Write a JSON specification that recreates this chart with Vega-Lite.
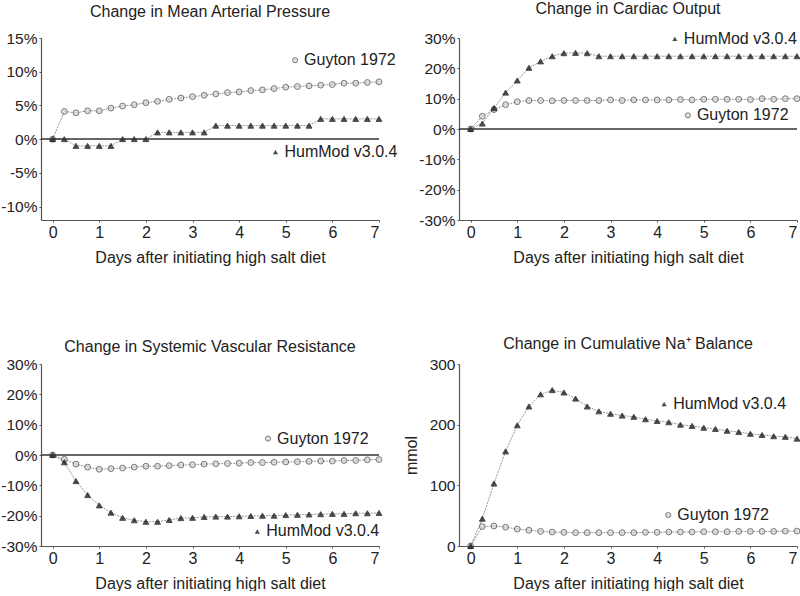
{
"$schema":"https://vega.github.io/schema/vega-lite/v6.json",
"padding":{"left":0,"top":0,"right":0,"bottom":0},
"background":"white",
"config":{
 "view":{"stroke":null},
 "font":"Liberation Sans",
 "title":{"font":"Liberation Sans","fontSize":16,"fontWeight":"normal","color":"#222"},
 "axis":{"grid":false,"labelOverlap":false,"domainColor":"#555","domainWidth":1.2,"tickColor":"#555","tickSize":2,"labelFont":"Liberation Sans","labelFontSize":16,"labelColor":"#222","titleFont":"Liberation Sans","titleFontSize":16,"titleFontWeight":"normal","titleColor":"#222","labelPadding":2},
 "axisY":{"labelFontSize":15.5}
},
"datasets":{
"map":[
{"s":"G","d":0,"v":0},{"s":"G","d":0.25,"v":4.1},{"s":"G","d":0.5,"v":3.9},{"s":"G","d":0.75,"v":4.2},{"s":"G","d":1,"v":4.2},{"s":"G","d":1.25,"v":4.6},{"s":"G","d":1.5,"v":4.9},{"s":"G","d":1.75,"v":5.1},{"s":"G","d":2,"v":5.4},{"s":"G","d":2.25,"v":5.6},{"s":"G","d":2.5,"v":5.9},{"s":"G","d":2.75,"v":6.1},{"s":"G","d":3,"v":6.3},{"s":"G","d":3.25,"v":6.5},{"s":"G","d":3.5,"v":6.7},{"s":"G","d":3.75,"v":6.9},{"s":"G","d":4,"v":7.0},{"s":"G","d":4.25,"v":7.2},{"s":"G","d":4.5,"v":7.3},{"s":"G","d":4.75,"v":7.5},{"s":"G","d":5,"v":7.7},{"s":"G","d":5.25,"v":7.8},{"s":"G","d":5.5,"v":7.9},{"s":"G","d":5.75,"v":8.0},{"s":"G","d":6,"v":8.1},{"s":"G","d":6.25,"v":8.3},{"s":"G","d":6.5,"v":8.3},{"s":"G","d":6.75,"v":8.4},{"s":"G","d":7,"v":8.5},
{"s":"H","d":0,"v":0},{"s":"H","d":0.25,"v":0},{"s":"H","d":0.5,"v":-1},{"s":"H","d":0.75,"v":-1},{"s":"H","d":1,"v":-1},{"s":"H","d":1.25,"v":-1},{"s":"H","d":1.5,"v":0},{"s":"H","d":1.75,"v":0},{"s":"H","d":2,"v":0},{"s":"H","d":2.25,"v":1},{"s":"H","d":2.5,"v":1},{"s":"H","d":2.75,"v":1},{"s":"H","d":3,"v":1},{"s":"H","d":3.25,"v":1},{"s":"H","d":3.5,"v":2},{"s":"H","d":3.75,"v":2},{"s":"H","d":4,"v":2},{"s":"H","d":4.25,"v":2},{"s":"H","d":4.5,"v":2},{"s":"H","d":4.75,"v":2},{"s":"H","d":5,"v":2},{"s":"H","d":5.25,"v":2},{"s":"H","d":5.5,"v":2},{"s":"H","d":5.75,"v":3},{"s":"H","d":6,"v":3},{"s":"H","d":6.25,"v":3},{"s":"H","d":6.5,"v":3},{"s":"H","d":6.75,"v":3},{"s":"H","d":7,"v":3}
],
"co":[
{"s":"G","d":0,"v":0},{"s":"G","d":0.25,"v":4.2},{"s":"G","d":0.5,"v":6.4},{"s":"G","d":0.75,"v":8.0},{"s":"G","d":1,"v":9.0},{"s":"G","d":1.25,"v":9.4},{"s":"G","d":1.5,"v":9.4},{"s":"G","d":1.75,"v":9.3},{"s":"G","d":2,"v":9.4},{"s":"G","d":2.25,"v":9.4},{"s":"G","d":2.5,"v":9.4},{"s":"G","d":2.75,"v":9.4},{"s":"G","d":3,"v":9.6},{"s":"G","d":3.25,"v":9.4},{"s":"G","d":3.5,"v":9.6},{"s":"G","d":3.75,"v":9.6},{"s":"G","d":4,"v":9.6},{"s":"G","d":4.25,"v":9.6},{"s":"G","d":4.5,"v":9.7},{"s":"G","d":4.75,"v":9.6},{"s":"G","d":5,"v":9.8},{"s":"G","d":5.25,"v":9.8},{"s":"G","d":5.5,"v":9.8},{"s":"G","d":5.75,"v":9.8},{"s":"G","d":6,"v":9.7},{"s":"G","d":6.25,"v":10},{"s":"G","d":6.5,"v":9.8},{"s":"G","d":6.75,"v":10},{"s":"G","d":7,"v":10},
{"s":"H","d":0,"v":0},{"s":"H","d":0.25,"v":1.8},{"s":"H","d":0.5,"v":6.9},{"s":"H","d":0.75,"v":12},{"s":"H","d":1,"v":16},{"s":"H","d":1.25,"v":20.2},{"s":"H","d":1.5,"v":22.3},{"s":"H","d":1.75,"v":24},{"s":"H","d":2,"v":25},{"s":"H","d":2.25,"v":25.1},{"s":"H","d":2.5,"v":25},{"s":"H","d":2.75,"v":24},{"s":"H","d":3,"v":24},{"s":"H","d":3.25,"v":24},{"s":"H","d":3.5,"v":24},{"s":"H","d":3.75,"v":24},{"s":"H","d":4,"v":24},{"s":"H","d":4.25,"v":24},{"s":"H","d":4.5,"v":24},{"s":"H","d":4.75,"v":24},{"s":"H","d":5,"v":24},{"s":"H","d":5.25,"v":24},{"s":"H","d":5.5,"v":24},{"s":"H","d":5.75,"v":24},{"s":"H","d":6,"v":24},{"s":"H","d":6.25,"v":24},{"s":"H","d":6.5,"v":24},{"s":"H","d":6.75,"v":24},{"s":"H","d":7,"v":24}
],
"svr":[
{"s":"G","d":0,"v":0},{"s":"G","d":0.25,"v":-1.4},{"s":"G","d":0.5,"v":-3.0},{"s":"G","d":0.75,"v":-4.0},{"s":"G","d":1,"v":-4.7},{"s":"G","d":1.25,"v":-4.5},{"s":"G","d":1.5,"v":-4.3},{"s":"G","d":1.75,"v":-4.0},{"s":"G","d":2,"v":-3.7},{"s":"G","d":2.25,"v":-3.7},{"s":"G","d":2.5,"v":-3.5},{"s":"G","d":2.75,"v":-3.3},{"s":"G","d":3,"v":-3.2},{"s":"G","d":3.25,"v":-3.0},{"s":"G","d":3.5,"v":-2.9},{"s":"G","d":3.75,"v":-2.8},{"s":"G","d":4,"v":-2.7},{"s":"G","d":4.25,"v":-2.5},{"s":"G","d":4.5,"v":-2.5},{"s":"G","d":4.75,"v":-2.4},{"s":"G","d":5,"v":-2.3},{"s":"G","d":5.25,"v":-2.2},{"s":"G","d":5.5,"v":-2.1},{"s":"G","d":5.75,"v":-2.0},{"s":"G","d":6,"v":-2.0},{"s":"G","d":6.25,"v":-1.8},{"s":"G","d":6.5,"v":-1.8},{"s":"G","d":6.75,"v":-1.6},{"s":"G","d":7,"v":-1.5},
{"s":"H","d":0,"v":0},{"s":"H","d":0.25,"v":-2.4},{"s":"H","d":0.5,"v":-8.6},{"s":"H","d":0.75,"v":-13.2},{"s":"H","d":1,"v":-16.6},{"s":"H","d":1.25,"v":-19.0},{"s":"H","d":1.5,"v":-20.7},{"s":"H","d":1.75,"v":-21.5},{"s":"H","d":2,"v":-22.0},{"s":"H","d":2.25,"v":-22.0},{"s":"H","d":2.5,"v":-21.4},{"s":"H","d":2.75,"v":-20.8},{"s":"H","d":3,"v":-20.7},{"s":"H","d":3.25,"v":-20.4},{"s":"H","d":3.5,"v":-20.3},{"s":"H","d":3.75,"v":-20.3},{"s":"H","d":4,"v":-20.2},{"s":"H","d":4.25,"v":-20.1},{"s":"H","d":4.5,"v":-20.0},{"s":"H","d":4.75,"v":-20.0},{"s":"H","d":5,"v":-19.8},{"s":"H","d":5.25,"v":-19.7},{"s":"H","d":5.5,"v":-19.6},{"s":"H","d":5.75,"v":-19.5},{"s":"H","d":6,"v":-19.4},{"s":"H","d":6.25,"v":-19.4},{"s":"H","d":6.5,"v":-19.2},{"s":"H","d":6.75,"v":-19.2},{"s":"H","d":7,"v":-19.1}
],
"na":[
{"s":"G","d":0,"v":0},{"s":"G","d":0.25,"v":32},{"s":"G","d":0.5,"v":33},{"s":"G","d":0.75,"v":31},{"s":"G","d":1,"v":28},{"s":"G","d":1.25,"v":26},{"s":"G","d":1.5,"v":24},{"s":"G","d":1.75,"v":23},{"s":"G","d":2,"v":22.5},{"s":"G","d":2.25,"v":22},{"s":"G","d":2.5,"v":22},{"s":"G","d":2.75,"v":22},{"s":"G","d":3,"v":22},{"s":"G","d":3.25,"v":22},{"s":"G","d":3.5,"v":22},{"s":"G","d":3.75,"v":22.5},{"s":"G","d":4,"v":22.5},{"s":"G","d":4.25,"v":23},{"s":"G","d":4.5,"v":23},{"s":"G","d":4.75,"v":23},{"s":"G","d":5,"v":23.5},{"s":"G","d":5.25,"v":23.5},{"s":"G","d":5.5,"v":23.5},{"s":"G","d":5.75,"v":24},{"s":"G","d":6,"v":24},{"s":"G","d":6.25,"v":24},{"s":"G","d":6.5,"v":24},{"s":"G","d":6.75,"v":24.5},{"s":"G","d":7,"v":24.6},
{"s":"H","d":0,"v":0},{"s":"H","d":0.25,"v":45},{"s":"H","d":0.5,"v":103},{"s":"H","d":0.75,"v":156},{"s":"H","d":1,"v":199},{"s":"H","d":1.25,"v":230},{"s":"H","d":1.5,"v":250},{"s":"H","d":1.75,"v":257},{"s":"H","d":2,"v":253},{"s":"H","d":2.25,"v":243},{"s":"H","d":2.5,"v":230},{"s":"H","d":2.75,"v":222},{"s":"H","d":3,"v":218},{"s":"H","d":3.25,"v":215},{"s":"H","d":3.5,"v":213},{"s":"H","d":3.75,"v":209},{"s":"H","d":4,"v":206},{"s":"H","d":4.25,"v":204},{"s":"H","d":4.5,"v":200},{"s":"H","d":4.75,"v":198},{"s":"H","d":5,"v":195},{"s":"H","d":5.25,"v":193},{"s":"H","d":5.5,"v":190},{"s":"H","d":5.75,"v":188},{"s":"H","d":6,"v":185},{"s":"H","d":6.25,"v":183},{"s":"H","d":6.5,"v":181},{"s":"H","d":6.75,"v":180},{"s":"H","d":7,"v":177}
]
},
"spacing":326,
"bounds":"flush",
"vconcat":[
{"hconcat":[
{"width":338,"height":182,
 "title":{"text":"Change in Mean Arterial Pressure","offset":11},
 "layer":[
  {"data":{"name":"map"},"mark":{"type":"line","color":"#999","strokeWidth":1,"strokeDash":[2,1]},
   "encoding":{"x":{"field":"d","type":"quantitative","scale":{"domain":[-0.25,7],"nice":false},"axis":{"values":[0,1,2,3,4,5,6,7],"format":"d","tickCount":12,"labelOverlap":false,"title":"Days after initiating high salt diet","titlePadding":9}},
   "y":{"field":"v","type":"quantitative","scale":{"domain":[-12,15],"nice":false},"axis":{"values":[-10,-5,0,5,10,15],"tickCount":12,"labelOverlap":false,"labelExpr":"datum.value + '%'","title":null}},
   "detail":{"field":"s"}}},
  {"data":{"name":"map"},"mark":{"type":"point","filled":true,"size":34,"strokeWidth":1},
   "encoding":{"x":{"field":"d","type":"quantitative"},"y":{"field":"v","type":"quantitative"},
   "shape":{"field":"s","scale":{"domain":["G","H"],"range":["circle","triangle-up"]},"legend":null},
   "fill":{"field":"s","scale":{"domain":["G","H"],"range":["#d4d4d4","#000000"]},"legend":null},
   "stroke":{"field":"s","scale":{"domain":["G","H"],"range":["#444444","#000000"]},"legend":null}}},
  {"data":{"values":[{}]},"mark":{"type":"rule","color":"#333","strokeWidth":1.5},"encoding":{"y":{"datum":0,"type":"quantitative"}}},
  {"data":{"values":[{}]},"mark":{"type":"point","shape":"circle","filled":true,"fill":"#d4d4d4","stroke":"#444","strokeWidth":1,"size":26},"encoding":{"x":{"datum":5.2},"y":{"datum":11.7}}},
  {"data":{"values":[{}]},"mark":{"type":"text","text":"Guyton 1972","align":"left","baseline":"middle","dx":9,"fontSize":16,"color":"#222"},"encoding":{"x":{"datum":5.2},"y":{"datum":11.7}}},
  {"data":{"values":[{}]},"mark":{"type":"point","shape":"triangle-up","filled":true,"fill":"#000","size":26},"encoding":{"x":{"datum":4.78},"y":{"datum":-1.9}}},
  {"data":{"values":[{}]},"mark":{"type":"text","text":"HumMod v3.0.4","align":"left","baseline":"middle","dx":9,"fontSize":16,"color":"#222"},"encoding":{"x":{"datum":4.78},"y":{"datum":-1.9}}}
 ]},
{"width":338,"height":182,
 "title":{"text":"Change in Cardiac Output","offset":14},
 "layer":[
  {"data":{"name":"co"},"mark":{"type":"line","color":"#999","strokeWidth":1,"strokeDash":[2,1]},
   "encoding":{"x":{"field":"d","type":"quantitative","scale":{"domain":[-0.25,7],"nice":false},"axis":{"values":[0,1,2,3,4,5,6,7],"format":"d","tickCount":12,"labelOverlap":false,"title":"Days after initiating high salt diet","titlePadding":9}},
   "y":{"field":"v","type":"quantitative","scale":{"domain":[-30,30],"nice":false},"axis":{"values":[-30,-20,-10,0,10,20,30],"tickCount":12,"labelOverlap":false,"labelExpr":"datum.value + '%'","title":null}},
   "detail":{"field":"s"}}},
  {"data":{"name":"co"},"mark":{"type":"point","filled":true,"size":34,"strokeWidth":1},
   "encoding":{"x":{"field":"d","type":"quantitative"},"y":{"field":"v","type":"quantitative"},
   "shape":{"field":"s","scale":{"domain":["G","H"],"range":["circle","triangle-up"]},"legend":null},
   "fill":{"field":"s","scale":{"domain":["G","H"],"range":["#d4d4d4","#000000"]},"legend":null},
   "stroke":{"field":"s","scale":{"domain":["G","H"],"range":["#444444","#000000"]},"legend":null}}},
  {"data":{"values":[{}]},"mark":{"type":"rule","color":"#333","strokeWidth":1.5},"encoding":{"y":{"datum":0,"type":"quantitative"}}},
  {"data":{"values":[{}]},"mark":{"type":"point","shape":"triangle-up","filled":true,"fill":"#000","size":26},"encoding":{"x":{"datum":4.38},"y":{"datum":29.7}}},
  {"data":{"values":[{}]},"mark":{"type":"text","text":"HumMod v3.0.4","align":"left","baseline":"middle","dx":9,"fontSize":16,"color":"#222"},"encoding":{"x":{"datum":4.38},"y":{"datum":29.7}}},
  {"data":{"values":[{}]},"mark":{"type":"point","shape":"circle","filled":true,"fill":"#d4d4d4","stroke":"#444","strokeWidth":1,"size":26},"encoding":{"x":{"datum":4.66},"y":{"datum":4.5}}},
  {"data":{"values":[{}]},"mark":{"type":"text","text":"Guyton 1972","align":"left","baseline":"middle","dx":9,"fontSize":16,"color":"#222"},"encoding":{"x":{"datum":4.66},"y":{"datum":4.5}}}
 ]}
],"spacing":80,"bounds":"flush"},
{"hconcat":[
{"width":338,"height":182,
 "title":{"text":"Change in Systemic Vascular Resistance","offset":2},
 "layer":[
  {"data":{"name":"svr"},"mark":{"type":"line","color":"#999","strokeWidth":1,"strokeDash":[2,1]},
   "encoding":{"x":{"field":"d","type":"quantitative","scale":{"domain":[-0.25,7],"nice":false},"axis":{"values":[0,1,2,3,4,5,6,7],"format":"d","tickCount":12,"labelOverlap":false,"title":"Days after initiating high salt diet","titlePadding":9}},
   "y":{"field":"v","type":"quantitative","scale":{"domain":[-30,30],"nice":false},"axis":{"values":[-30,-20,-10,0,10,20,30],"tickCount":12,"labelOverlap":false,"labelExpr":"datum.value + '%'","title":null}},
   "detail":{"field":"s"}}},
  {"data":{"name":"svr"},"mark":{"type":"point","filled":true,"size":34,"strokeWidth":1},
   "encoding":{"x":{"field":"d","type":"quantitative"},"y":{"field":"v","type":"quantitative"},
   "shape":{"field":"s","scale":{"domain":["G","H"],"range":["circle","triangle-up"]},"legend":null},
   "fill":{"field":"s","scale":{"domain":["G","H"],"range":["#d4d4d4","#000000"]},"legend":null},
   "stroke":{"field":"s","scale":{"domain":["G","H"],"range":["#444444","#000000"]},"legend":null}}},
  {"data":{"values":[{}]},"mark":{"type":"rule","color":"#333","strokeWidth":1.5},"encoding":{"y":{"datum":0,"type":"quantitative"}}},
  {"data":{"values":[{}]},"mark":{"type":"point","shape":"circle","filled":true,"fill":"#d4d4d4","stroke":"#444","strokeWidth":1,"size":26},"encoding":{"x":{"datum":4.62},"y":{"datum":5.4}}},
  {"data":{"values":[{}]},"mark":{"type":"text","text":"Guyton 1972","align":"left","baseline":"middle","dx":9,"fontSize":16,"color":"#222"},"encoding":{"x":{"datum":4.62},"y":{"datum":5.4}}},
  {"data":{"values":[{}]},"mark":{"type":"point","shape":"triangle-up","filled":true,"fill":"#000","size":26},"encoding":{"x":{"datum":4.39},"y":{"datum":-25.2}}},
  {"data":{"values":[{}]},"mark":{"type":"text","text":"HumMod v3.0.4","align":"left","baseline":"middle","dx":9,"fontSize":16,"color":"#222"},"encoding":{"x":{"datum":4.39},"y":{"datum":-25.2}}}
 ]},
{"width":338,"height":182,
 "title":{"text":"Change in Cumulative Na⁺ Balance","offset":5},
 "layer":[
  {"data":{"name":"na"},"mark":{"type":"line","color":"#999","strokeWidth":1,"strokeDash":[2,1]},
   "encoding":{"x":{"field":"d","type":"quantitative","scale":{"domain":[-0.25,7],"nice":false},"axis":{"values":[0,1,2,3,4,5,6,7],"format":"d","tickCount":12,"labelOverlap":false,"title":"Days after initiating high salt diet","titlePadding":9}},
   "y":{"field":"v","type":"quantitative","scale":{"domain":[0,300],"nice":false},"axis":{"values":[0,100,200,300],"format":"d","tickCount":12,"labelOverlap":false,"title":"mmol","titlePadding":10}},
   "detail":{"field":"s"}}},
  {"data":{"name":"na"},"mark":{"type":"point","filled":true,"size":34,"strokeWidth":1},
   "encoding":{"x":{"field":"d","type":"quantitative"},"y":{"field":"v","type":"quantitative"},
   "shape":{"field":"s","scale":{"domain":["G","H"],"range":["circle","triangle-up"]},"legend":null},
   "fill":{"field":"s","scale":{"domain":["G","H"],"range":["#d4d4d4","#000000"]},"legend":null},
   "stroke":{"field":"s","scale":{"domain":["G","H"],"range":["#444444","#000000"]},"legend":null}}},
  {"data":{"values":[{}]},"mark":{"type":"point","shape":"triangle-up","filled":true,"fill":"#000","size":26},"encoding":{"x":{"datum":4.15},"y":{"datum":234}}},
  {"data":{"values":[{}]},"mark":{"type":"text","text":"HumMod v3.0.4","align":"left","baseline":"middle","dx":9,"fontSize":16,"color":"#222"},"encoding":{"x":{"datum":4.15},"y":{"datum":234}}},
  {"data":{"values":[{}]},"mark":{"type":"point","shape":"circle","filled":true,"fill":"#d4d4d4","stroke":"#444","strokeWidth":1,"size":26},"encoding":{"x":{"datum":4.24},"y":{"datum":51}}},
  {"data":{"values":[{}]},"mark":{"type":"text","text":"Guyton 1972","align":"left","baseline":"middle","dx":9,"fontSize":16,"color":"#222"},"encoding":{"x":{"datum":4.24},"y":{"datum":51}}}
 ]}
],"spacing":80,"bounds":"flush"}
]
}
